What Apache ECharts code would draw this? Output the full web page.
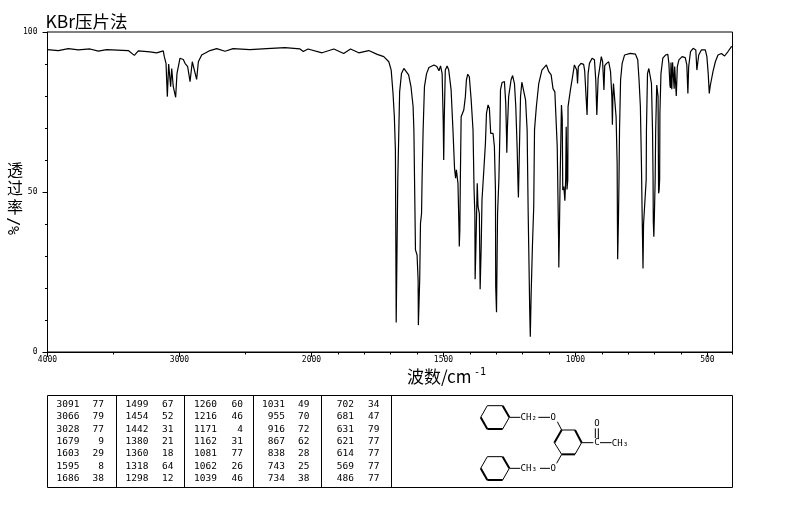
<!DOCTYPE html>
<html><head><meta charset="utf-8">
<script src="https://cdn.jsdelivr.net/npm/echarts@6/dist/echarts.min.js"></script>
<style>html,body{margin:0;padding:0;background:#fff}#c{width:794px;height:510px}</style>
</head><body><div id="c"></div>
<script>
const wavenumbers = [4000,3994,3918,3842,3766,3678,3615,3552,3388,3342,3312,3223,3173,3148,3123,3115,3102,3092,3082,3067,3059,3047,3029,3019,3009,2996,2971,2958,2938,2920,2903,2890,2870,2857,2832,2769,2718,2655,2594,2466,2340,2201,2087,2062,2026,1960,1915,1878,1852,1821,1783,1751,1726,1707,1698,1691,1686,1682,1679,1673,1669,1666,1659,1650,1645,1641,1632,1623,1615,1612,1609,1606,1600,1596,1595,1590,1587,1583,1581,1577,1572,1564,1555,1536,1525,1517,1511,1505,1501,1499,1497,1493,1486,1480,1471,1464,1458,1454,1451,1445,1441,1440,1438,1436,1433,1423,1417,1413,1408,1402,1395,1388,1384,1381,1380,1377,1372,1369,1364,1361,1357,1354,1347,1341,1337,1331,1326,1321,1312,1307,1303,1302,1299,1295,1290,1286,1284,1278,1269,1264,1261,1260,1258,1253,1244,1238,1231,1226,1221,1217,1216,1212,1208,1203,1196,1189,1183,1179,1177,1173,1171,1168,1163,1158,1157,1155,1148,1139,1127,1110,1101,1092,1085,1078,1069,1064,1063,1061,1058,1053,1051,1050,1048,1044,1040,1037,1035,1033,1032,1029,1028,1019,1011,1004,999,995,992,989,979,969,965,960,956,952,947,937,928,923,919,914,909,902,897,892,889,882,874,867,862,860,858,856,852,846,842,841,840,837,835,833,829,823,814,792,773,764,759,754,750,747,744,742,740,736,732,731,727,722,716,712,708,706,705,703,701,698,696,692,690,687,685,683,681,680,676,669,659,650,646,642,640,638,635,632,629,626,624,618,614,608,596,584,578,574,571,564,554,544,540,536,533,523,508,502,497,493,489,485,479,470,460,447,435,422,409,405];
const transmittance = [94.5,94.6,94.2,94.8,94.4,94.7,94,94.5,94.2,92.7,94.1,93.8,93.5,93.8,94.1,92.3,90.2,79.8,90,82.9,88.6,82.9,79.6,87,87.6,91.8,91.4,90.2,89.2,84.5,90.7,90.2,85.2,90.7,92.8,94.2,94.8,94,94.8,94.5,94.8,95.1,94.7,93.9,94.7,93.5,94.7,93.3,94.7,93.5,94.2,93,92.3,90.7,88.1,80.8,73.5,63,9.2,53.8,69.4,81.3,87,88.6,88.8,87.6,86.6,82.9,76.7,69.4,50.6,31.9,30.3,22.5,8.4,22.5,40.2,43.3,53.8,69.4,82.9,87,88.9,89.7,89.2,87.9,89.4,87,72.5,60,72.5,88.1,89.4,88.1,81.9,69.4,57.4,54.3,56.9,52.7,38,33,38,53.8,73.5,75.6,79.8,85,86.8,86,78.8,69.4,50.6,43.3,22.7,33,52.7,45.4,43.3,19.6,33,47.5,56.9,65.2,74.6,77.2,76.2,68.3,68.3,64.2,50.6,20.4,12.4,43.3,53.8,69.4,81.9,84.2,84.5,77.7,67.3,62.3,69.4,79.8,85,86.4,83.9,76.7,64.2,50.6,48.3,64.2,79.8,84.3,83.9,78.8,69.4,43.3,33,12.1,4.8,17.3,33,45.4,53.8,69.4,76.7,83.9,88.1,89.7,87.6,86.6,82.3,81.3,64.2,36,26.4,36,53.8,77.2,77.2,73,50.6,51.7,47.3,53.8,70.4,60,50.8,53.8,76.7,81.9,86,89.7,90.2,88.1,83.9,89.2,90.2,89.9,87.9,88.1,74.1,87,90.2,91.8,91.3,85,74.1,85.5,86,92.3,90.7,81.9,89.5,90.2,90.7,87.6,79.8,71,80,83.9,83.5,73.5,58.9,41.8,29,41.8,53.8,69.4,85,90.2,92.8,93.3,93.1,91.3,85,76.7,58.9,41.3,26.1,40,39.7,39.7,53.8,69.4,87,88.6,88.6,83.9,69.4,54.8,40.7,36,42.3,53.8,69.4,83.4,83.9,79.8,49.6,50.5,53.8,74.6,87,91.8,92.8,93,90.2,83.4,82.5,90.5,82.1,90.5,91,82.3,89.2,80,89.2,91.3,92.3,92,89.7,80.8,89.2,93.9,94.9,94.4,88.1,87.6,92.8,94.4,94.4,92.3,87,80.8,83.4,85,87.6,90.7,92.8,93.3,92.5,93.9,95.4,95.5];

const peakTable = [
  ["3091",77],["3066",79],["3028",77],["1679",9],["1603",29],["1595",8],["1686",38],
  ["1499",67],["1454",52],["1442",31],["1380",21],["1360",18],["1318",64],["1298",12],
  ["1260",60],["1216",46],["1171",4],["1162",31],["1081",77],["1062",26],["1039",46],
  ["1031",49],["955",70],["916",72],["867",62],["838",28],["743",25],["734",38],
  ["702",34],["681",47],["631",79],["621",77],["614",77],["569",77],["486",77]
];
const majorTicks = [4000,3000,2000,1500,1000,500];
const minorTicks = [3500,2500,1900,1800,1700,1600,1400,1300,1200,1100,900,800,700,600,405];
const labelledTicks = [4000,3000,2000,1500,1000,500];

// the wavenumber axis is twice as compressed above 2000 cm-1
const toU = w => w >= 2000 ? (4000 - w) / 2 : 1000 + (2000 - w);
const fromU = u => u <= 1000 ? 4000 - 2 * u : 2000 - (u - 1000);
const seriesData = wavenumbers.map((w, i) => [toU(w), transmittance[i]]);

const mono = "'DejaVu Sans Mono', monospace";
const cjk = "'Noto Sans CJK SC', sans-serif";
const black = '#000';
const g = [];
const line = (x1, y1, x2, y2, w) => g.push({type:'line', silent:true, shape:{x1,y1,x2,y2}, style:{stroke:black, lineWidth:w||1}});
const text = (x, y, t, o) => g.push({type:'text', silent:true, x, y, rotation:(o&&o.rot)||0, style:Object.assign({text:t, fill:black, font:(o&&o.font)||('9.5px '+mono), textAlign:(o&&o.align)||'left', textVerticalAlign:'middle'}, (o&&o.extra)||{})});

// headings
text(45.5, 21, 'KBr压片法', {font:'17.5px '+cjk});
text(15, 170, '透', {font:'16px '+cjk, align:'center'});
text(15, 188, '过', {font:'16px '+cjk, align:'center'});
text(15, 207, '率', {font:'16px '+cjk, align:'center'});
text(15, 226, '%/', {font:'15px '+mono, rot:Math.PI/2, extra:{textAlign:'center'}});
text(407, 377, '波数/cm', {font:'17px '+cjk});
text(474, 372, '-1', {font:'10px '+mono});

// peak table
line(47.5, 395.5, 732.5, 395.5);
line(47.5, 487.5, 732.5, 487.5);
line(47.5, 395.5, 47.5, 487.5);
line(732.5, 395.5, 732.5, 487.5);
[116.5, 184.5, 253.5, 321.5, 391.5].forEach(x => line(x, 395.5, x, 487.5));
const colW = [79.5, 148.5, 217, 285, 354];
const colT = [104, 173.5, 243, 309.5, 379.5];
peakTable.forEach((r, i) => {
  const c = Math.floor(i / 7), row = i % 7, y = 404.7 + row * 12.3;
  text(colW[c], y, r[0], {align:'right'});
  text(colT[c], y, String(r[1]), {align:'right'});
});

// structure
const P = (x, y) => [460 + x / 3, 395 + y / 3];
const bond = (a, b, w) => { const p = P(a[0], a[1]), q = P(b[0], b[1]); line(p[0], p[1], q[0], q[1], w || 1); };
const ring = (v, thick) => v.forEach((p, i) => bond(p, v[(i + 1) % 6], thick.includes(i) ? 2 : 1));
const topRing = [[62,67],[82,32],[128,32],[148,67],[128,102],[82,102]];
const lowRing = [[62,220],[82,185],[128,185],[148,220],[128,255],[82,255]];
const midRing = [[305,105],[345,105],[365,143],[345,178],[305,178],[283,143]];
ring(topRing, [2,4,5]);
ring(lowRing, [2,4,5]);
ring(midRing, [1,3,5]);
bond([148,67],[182,67]); bond([235,67],[270,67]); bond([292,80],[305,105]);
bond([148,220],[182,220]); bond([240,220],[270,220]); bond([305,178],[290,205]);
bond([365,143],[400,143]); bond([420,143],[455,143]);
bond([406,130],[406,100]); bond([415,130],[415,100]);
const atom = (x, y, t, a) => { const p = P(x, y); text(p[0], p[1], t, {font:'9px '+mono, align:a||'center', extra:{backgroundColor:'#fff'}}); };
atom(280,67,'O'); atom(280,220,'O'); atom(411,143,'C'); atom(411,85,'O');
atom(206,69,'CH₂'); atom(206,222,'CH₃'); atom(480,145,'CH₃');

const axisBase = {type:'value', min:0, max:toU(405), position:'bottom', splitLine:{show:false}};
const option = {
  animation:false, backgroundColor:'#fff',
  grid:{left:47.5, top:32, width:685, height:320, show:true, borderColor:black, borderWidth:1, backgroundColor:'transparent'},
  xAxis:[
    Object.assign({}, axisBase, {
      axisLine:{show:true, lineStyle:{color:black, width:1}},
      axisTick:{show:true, length:5, lineStyle:{color:black}, customValues:majorTicks.map(toU)},
      axisLabel:{show:true, margin:4, color:black, fontFamily:mono, fontSize:8,
        customValues:labelledTicks.map(toU), formatter:v => String(Math.round(fromU(v)))}
    }),
    Object.assign({}, axisBase, {
      axisLine:{show:false},
      axisTick:{show:true, length:2.5, lineStyle:{color:black}, customValues:minorTicks.map(toU)},
      axisLabel:{show:false}
    })
  ],
  yAxis:{type:'value', min:0, max:100, interval:50, splitLine:{show:false},
    axisLine:{show:true, lineStyle:{color:black, width:1}},
    axisTick:{show:true, length:5, lineStyle:{color:black}},
    minorTick:{show:true, splitNumber:5, length:2.5, lineStyle:{color:black}},
    minorSplitLine:{show:false},
    axisLabel:{margin:10, color:black, fontFamily:mono, fontSize:8}
  },
  series:[{type:'line', xAxisIndex:0, data:seriesData, showSymbol:false, symbol:'none', smooth:false,
    lineStyle:{color:black, width:1.2}, silent:true}],
  graphic:g
};
echarts.init(document.getElementById('c'), null, {renderer:'canvas'}).setOption(option);
</script></body></html>
